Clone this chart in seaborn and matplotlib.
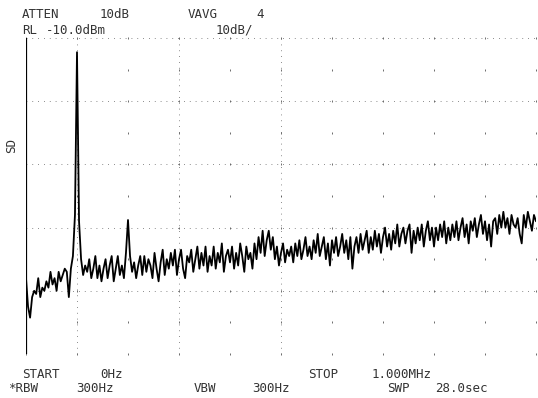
import numpy as np
import pandas as pd
import matplotlib
matplotlib.use("Agg")
import matplotlib.pyplot as plt
import seaborn as sns

# ---- data ----
start_mhz = 0.0
stop_mhz = 1.0
ref_level_dbm = -10.0
db_per_div = 10.0

level_dbm = [
    -86, -95, -98.5, -92, -90, -91, -86, -92, -89, -90,
    -87, -89, -84, -88, -86, -90, -84, -87, -85, -83,
    -84, -92, -83, -79, -66, -14.5, -68, -80, -85, -82,
    -84, -80, -86, -83, -79, -86, -82, -87, -83, -80,
    -86, -82, -79, -87, -83, -79, -85, -82, -86, -78,
    -67.6, -79, -84, -81, -86, -82, -79, -85, -79, -84,
    -80, -82, -86, -78, -83, -87, -81, -77, -85, -80,
    -83, -78, -82, -77, -85, -80, -77, -83, -86, -79,
    -81, -77, -84, -80, -76, -83, -78, -82, -76, -84,
    -79, -82, -76, -83, -78, -81, -75, -84, -79, -77,
    -81, -76, -83, -78, -82, -75, -79, -84, -76, -80,
    -78, -83, -75, -80, -73, -78, -71, -79, -74, -71,
    -77, -73, -80, -76, -82, -78, -75, -81, -77, -79,
    -76, -81, -75, -79, -74, -80, -77, -73, -79, -76,
    -80, -74, -78, -72, -79, -76, -73, -80, -75, -82,
    -74, -78, -73, -79, -76, -72, -78, -74, -80, -73,
    -83, -76, -73, -78, -72, -77, -74, -71, -78, -73,
    -77, -71, -76, -72, -78, -73, -70, -76, -72, -77,
    -71, -75, -69, -76, -72, -70, -75, -71, -69, -78,
    -71, -75, -70, -74, -69, -76, -71, -68, -74, -70,
    -76, -70, -74, -69, -73, -68, -75, -70, -74, -69,
    -73, -68, -74, -70, -67, -73, -69, -75, -68, -71,
    -67, -73, -69, -66, -72, -68, -74, -69, -76, -68,
    -67, -72, -66, -70, -65, -70, -67, -72, -66, -69,
    -70, -67, -72, -75, -66, -70, -65, -68, -71, -66, -68,
]
freq_mhz = np.linspace(start_mhz, stop_mhz, len(level_dbm))

header_line1 = [("ATTEN", 22), ("10dB", 100), ("VAVG", 188), ("4", 256)]
header_line2 = [("RL", 22), ("-10.0dBm", 46), ("10dB/", 216)]
footer_line1 = [("START", 22), ("0Hz", 100), ("STOP", 308), ("1.000MHz", 372)]
footer_line2 = [("*RBW", 8), ("300Hz", 76), ("VBW", 194), ("300Hz", 252),
                ("SWP", 387), ("28.0sec", 435)]
side_label = "SD"

df = pd.DataFrame({"freq": freq_mhz, "level": level_dbm})

# ---- figure ----
sns.set_style("white")
plt.rcParams["font.family"] = ["DejaVu Sans Mono", "DejaVu Sans"]

W, H = 538, 398
fig = plt.figure(figsize=(W / 100, H / 100), dpi=100)
fig.patch.set_facecolor("white")
ax = fig.add_axes([26 / W, (H - 354) / H, 510 / W, 316 / H])
ax.set_facecolor("white")

bottom = ref_level_dbm - 10 * db_per_div
ax.set_xlim(start_mhz, stop_mhz)
ax.set_ylim(bottom, ref_level_dbm)

# graticule
xdiv = np.linspace(start_mhz, stop_mhz, 11)
ydiv = np.linspace(bottom, ref_level_dbm, 11)
for yv in ydiv[::2]:
    ax.axhline(yv, color="#666666", lw=0.6, ls=(0, (1.0, 6.0)), zorder=1)
for xv in [0.1, 0.3, 0.5]:
    ax.axvline(xv, color="#666666", lw=0.6, ls=(0, (1.0, 6.0)), zorder=1)
gx, gy = np.meshgrid(xdiv, ydiv)
ax.scatter(gx.ravel(), gy.ravel(), marker="|", s=4, lw=0.6,
           color="#555555", zorder=1, clip_on=False)
ax.axvline(0.0, color="black", lw=1.6, zorder=2)

sns.lineplot(data=df, x="freq", y="level", ax=ax, color="black",
             lw=1.3, zorder=3, legend=False)

ax.set_xticks([])
ax.set_yticks([])
ax.set_xlabel("")
ax.set_ylabel("")
for sp in ax.spines.values():
    sp.set_visible(False)

tk = dict(fontsize=9, color="#333333", va="center", ha="left",
          family=["DejaVu Sans Mono", "DejaVu Sans"])
for words, ypx in [(header_line1, 14), (header_line2, 30),
                   (footer_line1, 374), (footer_line2, 389)]:
    for s, xpx in words:
        fig.text(xpx / W, 1 - ypx / H, s, **tk)
fig.text(12 / W, 1 - 146 / H, side_label, rotation=90,
         fontsize=9, color="#333333", va="center", ha="center",
         family=["DejaVu Sans Mono", "DejaVu Sans"])

fig.savefig("out.png", dpi=100, facecolor="white")
